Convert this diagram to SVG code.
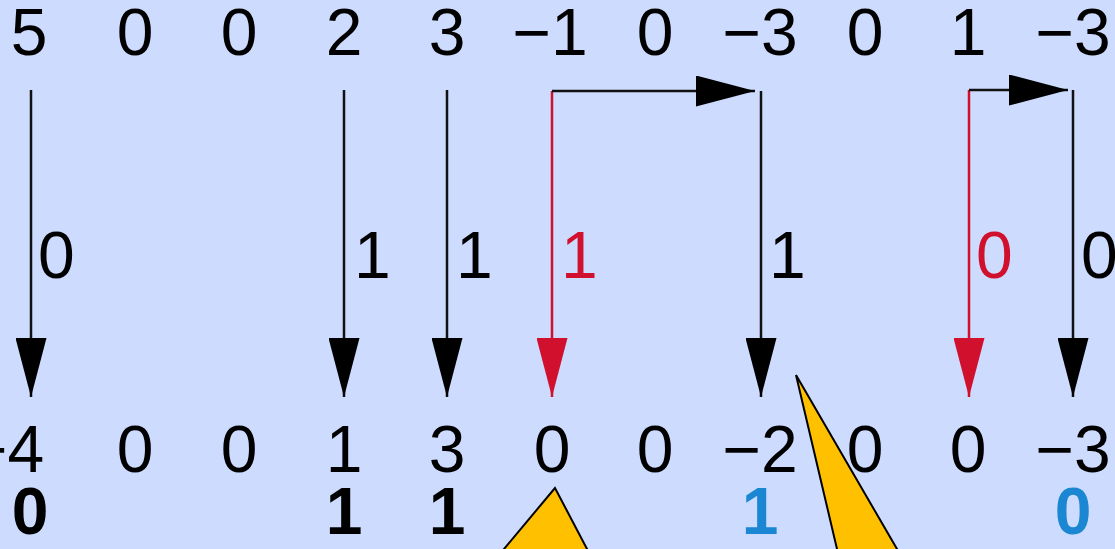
<svg xmlns="http://www.w3.org/2000/svg" width="1115" height="549" viewBox="0 0 1115 549">
<style>
text{font-family:"Liberation Sans",Arial,Helvetica,sans-serif;font-size:66px;fill:#000}
.c{text-anchor:middle}
.b{font-weight:bold}
.red{fill:#d0102c}
.blue{fill:#1b86d2}
.ln{stroke:#111;stroke-width:2.5;fill:none}
.lr{stroke:#d0102c;stroke-width:2.5;fill:none}
.tail{fill:#ffc000;stroke:#000;stroke-width:2}
</style>
<defs>
<marker id="ak" viewBox="0 0 59 31" refX="59" refY="15.5" markerWidth="59" markerHeight="31" markerUnits="userSpaceOnUse" orient="auto"><path d="M0,0 L59,15.5 L0,31 Z" fill="#000"/></marker>
<marker id="ar" viewBox="0 0 59 31" refX="59" refY="15.5" markerWidth="59" markerHeight="31" markerUnits="userSpaceOnUse" orient="auto"><path d="M0,0 L59,15.5 L0,31 Z" fill="#d0102c"/></marker>
</defs>
<rect width="1115" height="549" fill="#cddcfe"/>
<g id="callouts">
<polygon class="tail" points="555,488 494.8,560 592.8,560"/>
<polygon class="tail" points="796,375 839.6,560 903.4,560"/>
</g>
<g id="top-row">
<text class="c" x="29" y="55">5</text>
<text class="c" x="135" y="55">0</text>
<text class="c" x="239" y="55">0</text>
<text class="c" x="344" y="55">2</text>
<text class="c" x="447" y="55">3</text>
<text class="c" x="550" y="55">−1</text>
<text class="c" x="655" y="55">0</text>
<text class="c" x="760" y="55">−3</text>
<text class="c" x="865" y="55">0</text>
<text class="c" x="968" y="55">1</text>
<text class="c" x="1073" y="55">−3</text>
</g>
<g id="connectors">
<line class="ln" x1="31" y1="90" x2="31" y2="397" marker-end="url(#ak)"/>
<line class="ln" x1="344" y1="90" x2="344" y2="397" marker-end="url(#ak)"/>
<line class="ln" x1="447" y1="90" x2="447" y2="397" marker-end="url(#ak)"/>
<line class="lr" x1="552" y1="91" x2="552" y2="397" marker-end="url(#ar)"/>
<line class="ln" x1="552" y1="91" x2="755" y2="91" marker-end="url(#ak)"/>
<line class="ln" x1="761" y1="91" x2="761" y2="397" marker-end="url(#ak)"/>
<line class="lr" x1="969" y1="90" x2="969" y2="397" marker-end="url(#ar)"/>
<line class="ln" x1="969" y1="90" x2="1068" y2="90" marker-end="url(#ak)"/>
<line class="ln" x1="1073" y1="90" x2="1073" y2="397" marker-end="url(#ak)"/>
</g>
<g id="labels">
<text x="38" y="278">0</text>
<text x="354" y="278">1</text>
<text x="456" y="278">1</text>
<text class="red" x="561" y="278">1</text>
<text x="769" y="278">1</text>
<text class="red" x="976" y="278">0</text>
<text x="1081" y="278">0</text>
</g>
<g id="bottom-row">
<text x="-31" y="472">−4</text>
<text class="c" x="135" y="472">0</text>
<text class="c" x="239" y="472">0</text>
<text class="c" x="344" y="472">1</text>
<text class="c" x="447" y="472">3</text>
<text class="c" x="552" y="472">0</text>
<text class="c" x="655" y="472">0</text>
<text class="c" x="760" y="472">−2</text>
<text class="c" x="865" y="472">0</text>
<text class="c" x="968" y="472">0</text>
<text class="c" x="1073" y="472">−3</text>
</g>
<g id="result-row">
<text class="c b" x="30" y="534">0</text>
<text class="c b" x="344" y="534">1</text>
<text class="c b" x="447" y="534">1</text>
<text class="c b blue" x="760" y="534">1</text>
<text class="c b blue" x="1073" y="534">0</text>
</g>
</svg>
